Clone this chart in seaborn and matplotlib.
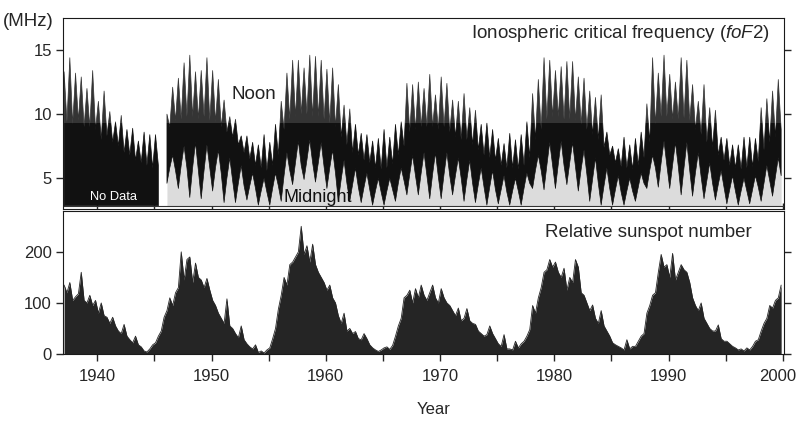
import numpy as np
import pandas as pd
import matplotlib
matplotlib.use("Agg")
import matplotlib.pyplot as plt
from matplotlib.transforms import ScaledTranslation
import seaborn as sns

nan = np.nan

# one row per year, four samples per year
years = list(range(1937, 2000))

# noon foF2 (MHz): [spike, trough, spike, trough]
noon = [
    [13.3, 9.4, 14.4, 9.2], [13.2, 9.5, 12.9, 9.0], [12.0, 9.0, 13.4, 8.8],
    [11.0, 8.0, 11.8, 8.3], [10.2, 7.8, 9.4, 7.5], [9.9, 7.0, 8.8, 6.8],
    [8.9, 6.4, 7.9, 6.2], [8.6, 6.0, 8.4, 5.8], [8.4, 6.0, nan, nan],
    [10.0, 9.0, 12.1, 9.5], [12.8, 9.6, 14.0, 9.8], [14.6, 9.8, 13.3, 9.6],
    [13.4, 9.8, 14.4, 9.5], [13.4, 9.4, 12.7, 9.0], [11.1, 8.6, 9.8, 8.2],
    [9.6, 7.6, 8.3, 7.0], [8.3, 6.5, 7.8, 6.0], [7.6, 5.8, 8.4, 5.6],
    [7.8, 6.0, 9.2, 6.8], [11.0, 8.8, 13.2, 9.6], [14.2, 9.8, 14.2, 10.0],
    [13.6, 10.0, 14.6, 9.8], [14.5, 9.8, 14.2, 9.6], [13.5, 9.3, 13.6, 9.0],
    [12.3, 8.2, 10.7, 7.6], [10.4, 7.0, 9.2, 6.8], [8.5, 6.4, 8.4, 6.2],
    [7.9, 5.8, 8.1, 5.7], [8.8, 5.8, 8.2, 6.1], [9.2, 6.8, 9.4, 7.5],
    [12.4, 8.6, 12.3, 8.8], [12.5, 9.0, 12.0, 9.0], [13.1, 9.0, 11.5, 8.8],
    [12.9, 9.0, 12.4, 8.6], [11.1, 8.2, 11.0, 8.0], [11.6, 8.0, 10.5, 7.6],
    [10.3, 7.2, 9.2, 6.8], [9.3, 6.6, 8.8, 6.4], [8.1, 6.0, 7.7, 5.8],
    [8.5, 5.8, 8.0, 5.7], [8.4, 6.0, 9.4, 6.6], [11.6, 8.0, 12.7, 8.8],
    [14.4, 9.6, 14.2, 9.8], [13.4, 9.8, 13.7, 9.6], [14.1, 9.6, 14.1, 9.5],
    [12.9, 9.2, 12.8, 8.8], [11.8, 8.4, 11.3, 8.0], [11.5, 7.4, 8.6, 6.8],
    [7.5, 6.2, 7.3, 5.9], [8.2, 5.8, 7.6, 5.7], [8.1, 6.0, 8.6, 6.6],
    [10.8, 7.8, 14.4, 9.2], [13.2, 9.8, 14.6, 9.8], [13.1, 9.6, 12.5, 9.6],
    [14.4, 9.7, 14.2, 9.5], [12.3, 8.8, 11.0, 8.4], [12.3, 7.8, 10.5, 7.4],
    [10.3, 6.8, 8.2, 6.4], [8.1, 6.0, 7.6, 5.8], [7.6, 5.7, 8.2, 5.8],
    [8.2, 5.9, 8.1, 6.3], [10.5, 7.2, 11.2, 7.8], [11.8, 8.2, 12.7, 8.8],
]

# midnight foF2 (MHz): [winter dip, spring, summer, autumn]; none before 1946
midnight = [[nan] * 4] * 9 + [
    [4.6, 5.8, 6.8, 5.6], [4.2, 6.0, 7.5, 5.8], [3.5, 5.8, 7.8, 5.6],
    [3.4, 5.6, 7.6, 5.8], [4.0, 5.8, 7.2, 5.4], [3.1, 5.0, 6.6, 4.8],
    [3.1, 4.6, 6.0, 4.4], [3.3, 4.4, 5.4, 4.2], [2.9, 4.0, 5.0, 3.9],
    [2.9, 4.2, 5.4, 4.4], [3.2, 5.2, 7.0, 5.6], [4.5, 6.2, 7.9, 6.0],
    [4.9, 6.4, 8.0, 6.2], [4.7, 6.2, 7.8, 5.9], [4.2, 5.8, 7.2, 5.4],
    [3.2, 4.9, 6.4, 4.6], [3.2, 4.5, 5.8, 4.3], [3.1, 4.3, 5.4, 4.1],
    [2.9, 4.0, 5.0, 3.9], [2.9, 4.0, 5.0, 4.1], [3.2, 4.6, 5.8, 4.8],
    [3.7, 5.3, 6.8, 5.2], [3.7, 5.4, 7.0, 5.2], [3.4, 5.3, 7.0, 5.1],
    [3.4, 5.3, 7.0, 5.2], [3.7, 5.2, 6.6, 5.0], [3.2, 4.9, 6.4, 4.6],
    [3.1, 4.5, 5.8, 4.3], [2.9, 4.3, 5.6, 4.1], [3.0, 4.1, 5.2, 3.9],
    [2.9, 4.0, 5.0, 4.0], [2.9, 4.2, 5.4, 4.6], [4.2, 5.6, 6.8, 5.6],
    [4.1, 6.0, 7.8, 6.0], [4.2, 6.1, 7.9, 6.0], [4.5, 6.2, 7.8, 5.9],
    [4.0, 5.7, 7.2, 5.3], [3.2, 4.9, 6.6, 4.6], [2.9, 4.4, 5.8, 4.2],
    [2.9, 4.1, 5.2, 3.9], [2.9, 4.0, 5.0, 4.0], [3.2, 4.3, 5.4, 4.6],
    [4.2, 5.6, 6.8, 5.8], [4.3, 6.2, 7.9, 6.0], [4.2, 6.0, 7.8, 5.9],
    [3.7, 5.8, 7.8, 5.6], [3.6, 5.4, 7.0, 5.1], [3.4, 4.8, 6.2, 4.6],
    [3.3, 4.5, 5.6, 4.3], [3.0, 4.1, 5.2, 4.0], [2.9, 4.0, 5.0, 4.0],
    [3.0, 4.1, 5.2, 4.3], [3.2, 4.6, 6.0, 4.8], [3.6, 5.1, 6.6, 5.2],
]

# relative sunspot number, quarterly
sunspots = [
    [135, 120, 140, 105], [112, 118, 160, 105], [100, 115, 95, 105],
    [80, 100, 75, 72], [60, 72, 55, 45], [40, 58, 35, 28],
    [22, 35, 18, 14], [6, 4, 10, 18], [22, 35, 45, 72],
    [85, 110, 95, 120], [130, 200, 145, 185], [190, 140, 178, 150],
    [145, 130, 148, 125], [105, 95, 80, 70], [60, 108, 55, 50],
    [40, 32, 55, 28], [20, 14, 10, 18], [3, 6, 2, 8],
    [12, 30, 50, 88], [115, 150, 135, 175], [180, 190, 200, 250],
    [195, 212, 180, 215], [175, 160, 150, 140], [125, 135, 110, 100],
    [75, 60, 80, 45], [50, 40, 44, 30], [28, 40, 30, 18],
    [12, 8, 5, 8], [12, 14, 9, 17], [35, 55, 70, 110],
    [115, 125, 100, 128], [110, 135, 115, 105], [120, 135, 110, 100],
    [128, 110, 100, 95], [85, 75, 90, 65], [70, 89, 65, 60],
    [58, 45, 40, 35], [38, 55, 40, 30], [20, 15, 38, 10],
    [10, 8, 25, 12], [20, 25, 35, 48], [95, 80, 110, 130],
    [160, 165, 185, 170], [180, 160, 150, 168], [125, 150, 140, 185],
    [170, 120, 115, 100], [85, 96, 70, 60], [85, 55, 45, 35],
    [22, 18, 15, 12], [8, 28, 10, 15], [15, 25, 35, 40],
    [80, 95, 115, 120], [160, 195, 170, 175], [150, 197, 145, 160],
    [175, 165, 160, 140], [110, 95, 85, 100], [70, 60, 50, 45],
    [45, 57, 30, 25], [25, 20, 15, 12], [8, 10, 6, 12],
    [8, 15, 25, 28], [45, 60, 70, 95], [90, 105, 110, 135],
]

sns.set_style("ticks")
plt.rcParams['font.family'] = ['Liberation Sans', 'DejaVu Sans']
plt.rcParams['mathtext.fontset'] = 'custom'
plt.rcParams['mathtext.it'] = 'Liberation Sans:italic'
plt.rcParams['mathtext.rm'] = 'Liberation Sans'
plt.rcParams['axes.edgecolor'] = '#1a1a1a'

t = np.array([y + q for y in years for q in [0.1, 0.35, 0.6, 0.85]])
df = pd.DataFrame({
    'year': t,
    'noon': np.ravel(noon),
    'midnight': np.ravel(midnight),
    'ssn': np.ravel(sunspots),
})

fig = plt.figure(figsize=(7.97, 4.21), dpi=100)
ax1 = fig.add_axes([0.0790, 0.5036, 0.9047, 0.4537])
ax2 = fig.add_axes([0.0790, 0.1591, 0.9047, 0.3397])

# ---- foF2 panel
base = 2.85
nodata = df['midnight'].isna() & df['noon'].notna()
lower = df['midnight'].where(~nodata, base)
ax1.fill_between(df['year'], base, df['midnight'], color='#dcdcdc', lw=0)
ax1.fill_between(df['year'], lower, df['noon'], color='#111111',
                 edgecolor='#111111', lw=0.5)
ax1.axhline(base, color='#333333', lw=0.8)
# the scan is lighter above ~9.3 MHz
ax1.axhspan(9.3, 17.5, color='white', alpha=0.15, lw=0, zorder=2.5)

ax1.set_xlim(1937.0, 2000.1)
ax1.set_ylim(2.6, 17.5)
ax1.set_yticks([5, 10, 15])
ax1.set_xticks(np.arange(1940, 2001, 5))
ax1.tick_params(axis='y', left=True, right=True, direction='out', length=5,
                width=1, labelsize=12, pad=3)
ax1.tick_params(axis='x', bottom=True, direction='in', length=4, width=1,
                labelbottom=False)
ax1.set_xlabel('')
ax1.set_ylabel('')

ax1.text(0.9806, 0.921, r'Ionospheric critical frequency ($\mathit{foF2}$)',
         transform=ax1.transAxes, ha='right', va='center', fontsize=13.5,
         zorder=5)
ax1.text(1953.7, 11.5, 'Noon', ha='center', va='center', fontsize=13.5,
         color='#222222', zorder=5)
ax1.text(1959.3, 3.5, 'Midnight', ha='center', va='center', fontsize=13,
         color='#111111', zorder=5)
ax1.text(1941.4, 3.5, 'No Data', ha='center', va='center', fontsize=9.3,
         color='white', zorder=5)

# ---- sunspot panel
ax2.fill_between(df['year'], 0, df['ssn'], color='#252525', lw=0)
sns.lineplot(data=df, x='year', y='ssn', ax=ax2, color='#252525', lw=0.6)
ax2.set_xlim(1937.0, 2000.1)
ax2.set_ylim(0, 280)
ax2.set_yticks([0, 100, 200])
ax2.set_xticks(np.arange(1940, 2001, 5))
ax2.set_xticklabels([str(y) if y % 10 == 0 else '' for y in range(1940, 2001, 5)])
ax2.tick_params(axis='y', left=True, right=True, direction='out', length=5,
                width=1, labelsize=12, pad=3)
ax2.tick_params(axis='x', bottom=True, direction='out', length=5, width=1,
                labelsize=12, pad=6)
ax2.set_xlabel('')
ax2.set_ylabel('')
ax2.text(0.9556, 0.853, 'Relative sunspot number', transform=ax2.transAxes,
         ha='right', va='center', fontsize=13.5)

# last year label sits a little left of its tick
last = ax2.get_xticklabels()[-1]
last.set_transform(last.get_transform() +
                   ScaledTranslation(-5 / 100, 0, fig.dpi_scale_trans))

fig.text(3 / 797, 1 - 22 / 421, '(MHz)', ha='left', va='center', fontsize=13.5)
fig.text(434 / 797, 1 - 410 / 421, 'Year', ha='center', va='center', fontsize=12)

fig.savefig('out.png', dpi=100)
